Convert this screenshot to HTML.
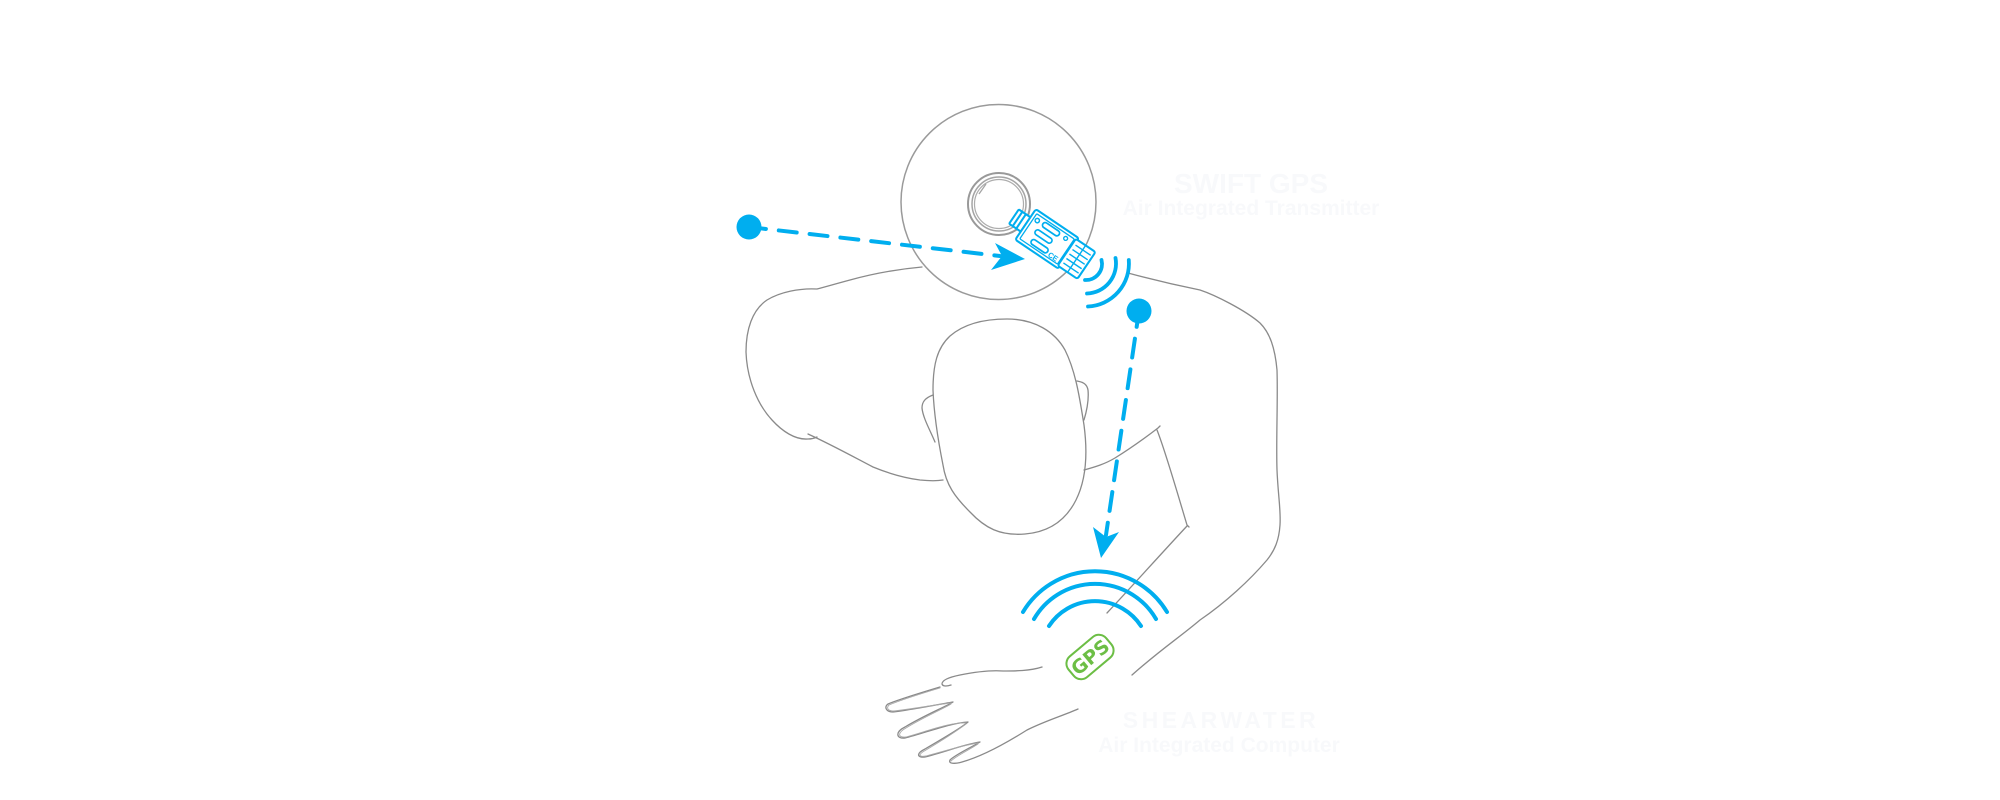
<!DOCTYPE html>
<html>
<head>
<meta charset="utf-8">
<style>
  html,body{margin:0;padding:0;background:#ffffff;}
  body{width:2000px;height:800px;overflow:hidden;}
  svg{display:block;}
</style>
</head>
<body>
<svg width="2000" height="800" viewBox="0 0 2000 800" xmlns="http://www.w3.org/2000/svg">
  <rect width="2000" height="800" fill="#ffffff"/>

  <!-- faint labels -->
  <g font-family="Liberation Sans, Arial, sans-serif" font-weight="bold" fill="#f8f9fb" text-anchor="middle">
    <text x="1251" y="193" font-size="28">SWIFT GPS</text>
    <text x="1251" y="215" font-size="21">Air Integrated Transmitter</text>
    <text x="1221" y="728" font-size="23" letter-spacing="3.5">SHEARWATER</text>
    <text x="1219" y="752" font-size="21">Air Integrated Computer</text>
  </g>

  <!-- body outlines -->
  <g fill="none" stroke="#8a8a8a" stroke-width="1.3" stroke-linecap="round" stroke-linejoin="round">
    <path d="M922,267 C900,269 875,273 850,280 C835,284 825,287 817,289 C800,288 780,292 767,300 C752,310 746,330 746,352 C747,380 758,405 772,420 C782,431 795,440 808,439 C812,439 815,438 817,437"/>
    <path d="M808,434 C830,444 850,455 873,467 C890,474 905,478 920,480 C930,481 937,481 943,480"/>
    <path d="M1007,319 C1035,319 1055,332 1065,350 C1076,372 1080,400 1084,425 C1088,455 1086,480 1076,500 C1066,520 1050,532 1025,534 C1000,536 985,528 970,512 C955,497 946,485 943,465 C938,440 934,415 933,390 C933,365 937,348 950,336 C965,323 985,319 1007,319 Z"/>
    <path d="M933,395 C925,398 922,402 922,408 C923,418 930,430 935,442"/>
    <path d="M1077,381 C1083,382 1087,384 1088,390 C1089,400 1087,410 1084,420"/>
    <path d="M1084,470 C1095,467 1105,464 1115,458 C1128,450 1145,438 1158,428 L1160,426"/>
    <path d="M1157,430 C1165,450 1175,485 1187,525 L1189,527"/>
    <path d="M1187,526 C1160,555 1135,583 1107,613"/>
    <path d="M1128,273 C1150,279 1180,286 1200,290 C1215,295 1245,310 1260,323 C1270,333 1275,348 1277,370 C1278,400 1276,440 1277,470 C1278,495 1281,510 1280,525 C1279,540 1275,550 1267,560 C1250,580 1225,603 1200,620 C1180,637 1160,650 1132,675"/>
    <path d="M1042,667 C1030,671 1015,671 1003,671 C990,670 975,672 960,675 C950,677 942,680 942,684 C943,687 948,686 951,685"/>
    <path d="M940,687 C920,693 900,699 888,704 C884,707 886,712 893,712 C910,710 935,705 953,702 C945,707 925,715 905,727 C895,732 896,739 905,738 C925,733 950,723 968,722 C960,729 940,740 925,749 C915,754 918,758 925,757 C945,752 965,744 980,742 C970,748 955,755 950,760 C948,764 955,764 962,762 C980,757 1000,747 1027,730 C1045,721 1062,716 1078,709"/>
    <path d="M940,688 C920,694 901,700 889,705 C886,708 888,711 894,711 C911,709 934,705 951,703 M951,704 C943,709 924,717 906,728 C897,733 898,738 906,737 C925,732 950,722 966,723 M966,724 C958,730 941,741 926,750 C917,755 919,757 926,756 C945,751 964,745 978,743 M978,744 C969,750 956,756 951,761" stroke="#a8a8a8" stroke-width="0.9"/>
  </g>

  <!-- big circle -->
  <circle cx="998.5" cy="202" r="97.5" fill="#ffffff" stroke="#9a9a9a" stroke-width="1.5"/>

  <!-- key ring -->
  <g fill="none">
    <circle cx="999" cy="204" r="31" stroke="#999999" stroke-width="2"/>
    <circle cx="999" cy="204" r="27" stroke="#a5a5a5" stroke-width="1.5"/>
    <circle cx="999" cy="204" r="24.5" stroke="#adadad" stroke-width="1.2"/>
    <path d="M979,194 L986,184 M1012,222 L1020,214" stroke="#a5a5a5" stroke-width="1.3"/>
  </g>

  <!-- transmitter device -->
  <g transform="translate(1022,222) rotate(34) scale(1.08)" fill="#ffffff" stroke="#00aeef" stroke-width="1.9" stroke-linejoin="round">
    <rect x="-9" y="-8" width="13" height="16" rx="1"/>
    <line x1="-5" y1="-8" x2="-5" y2="8"/>
    <line x1="-1" y1="-8" x2="-1" y2="8"/>
    <rect x="4" y="-17" width="48" height="34" rx="2"/>
    <rect x="7" y="-14" width="42" height="28" rx="1" stroke-width="1.2"/>
    <circle cx="11" cy="-9" r="2" stroke-width="1.4"/>
    <rect x="17" y="-12" width="18" height="5" rx="2.5" stroke-width="1.6"/>
    <rect x="15" y="-2.5" width="18" height="5" rx="2.5" stroke-width="1.6"/>
    <rect x="17" y="7" width="18" height="5" rx="2.5" stroke-width="1.6"/>
    <circle cx="42" cy="-10" r="1.8" stroke-width="1.3"/>
    <rect x="50" y="-15" width="22" height="30" rx="2"/>
    <g stroke-width="1.3">
      <line x1="53" y1="-10" x2="70" y2="-10"/>
      <line x1="53" y1="-5" x2="70" y2="-5"/>
      <line x1="53" y1="0" x2="70" y2="0"/>
      <line x1="53" y1="5" x2="70" y2="5"/>
      <line x1="53" y1="10" x2="70" y2="10"/>
      <line x1="61" y1="-15" x2="61" y2="15"/>
    </g>
    <text x="37" y="13" font-family="Liberation Sans, sans-serif" font-size="7" font-weight="bold" fill="#00aeef" stroke="none">CE</text>
  </g>

  <!-- waves near device -->
  <g fill="none" stroke="#00aeef" stroke-width="3.8" stroke-linecap="round">
    <path d="M1101.5,260 A16,16 0 0 1 1085,280"/>
    <path d="M1115.5,258 A30,30 0 0 1 1087,293.5"/>
    <path d="M1128.8,260 A43,43 0 0 1 1088,306.5"/>
  </g>

  <!-- dashed connector 1 -->
  <line x1="749" y1="227" x2="1000" y2="256" stroke="#00aeef" stroke-width="4" stroke-linecap="round" stroke-dasharray="18 13" stroke-dashoffset="1"/>
  <circle cx="749" cy="227" r="12.5" fill="#00aeef"/>
  <path d="M1025,259 L995,243 L1002,256 L991,270 Z" fill="#00aeef"/>

  <!-- dashed connector 2 -->
  <line x1="1139" y1="311" x2="1106" y2="535" stroke="#00aeef" stroke-width="4" stroke-linecap="round" stroke-dasharray="19 12" stroke-dashoffset="3"/>
  <circle cx="1139" cy="311" r="12.5" fill="#00aeef"/>
  <path d="M1101,558 L1093,527 L1106,537 L1119,532 Z" fill="#00aeef"/>

  <!-- GPS waves -->
  <g fill="none" stroke="#00aeef" stroke-width="4" stroke-linecap="round">
    <path d="M1023,612 A84,84 0 0 1 1167,612"/>
    <path d="M1034,619 A70.5,70.5 0 0 1 1156,619"/>
    <path d="M1049,626 A55,55 0 0 1 1141,626"/>
  </g>

  <!-- GPS badge -->
  <g transform="translate(1090,657) rotate(-40)">
    <rect x="-24.5" y="-13.5" width="49" height="27" rx="9.5" fill="#ffffff" stroke="#6cbe45" stroke-width="2"/>
    <text x="0" y="7" text-anchor="middle" font-family="DejaVu Sans, Liberation Sans, sans-serif" font-size="19" font-weight="bold" fill="#6cbe45">GPS</text>
  </g>
</svg>
</body>
</html>
